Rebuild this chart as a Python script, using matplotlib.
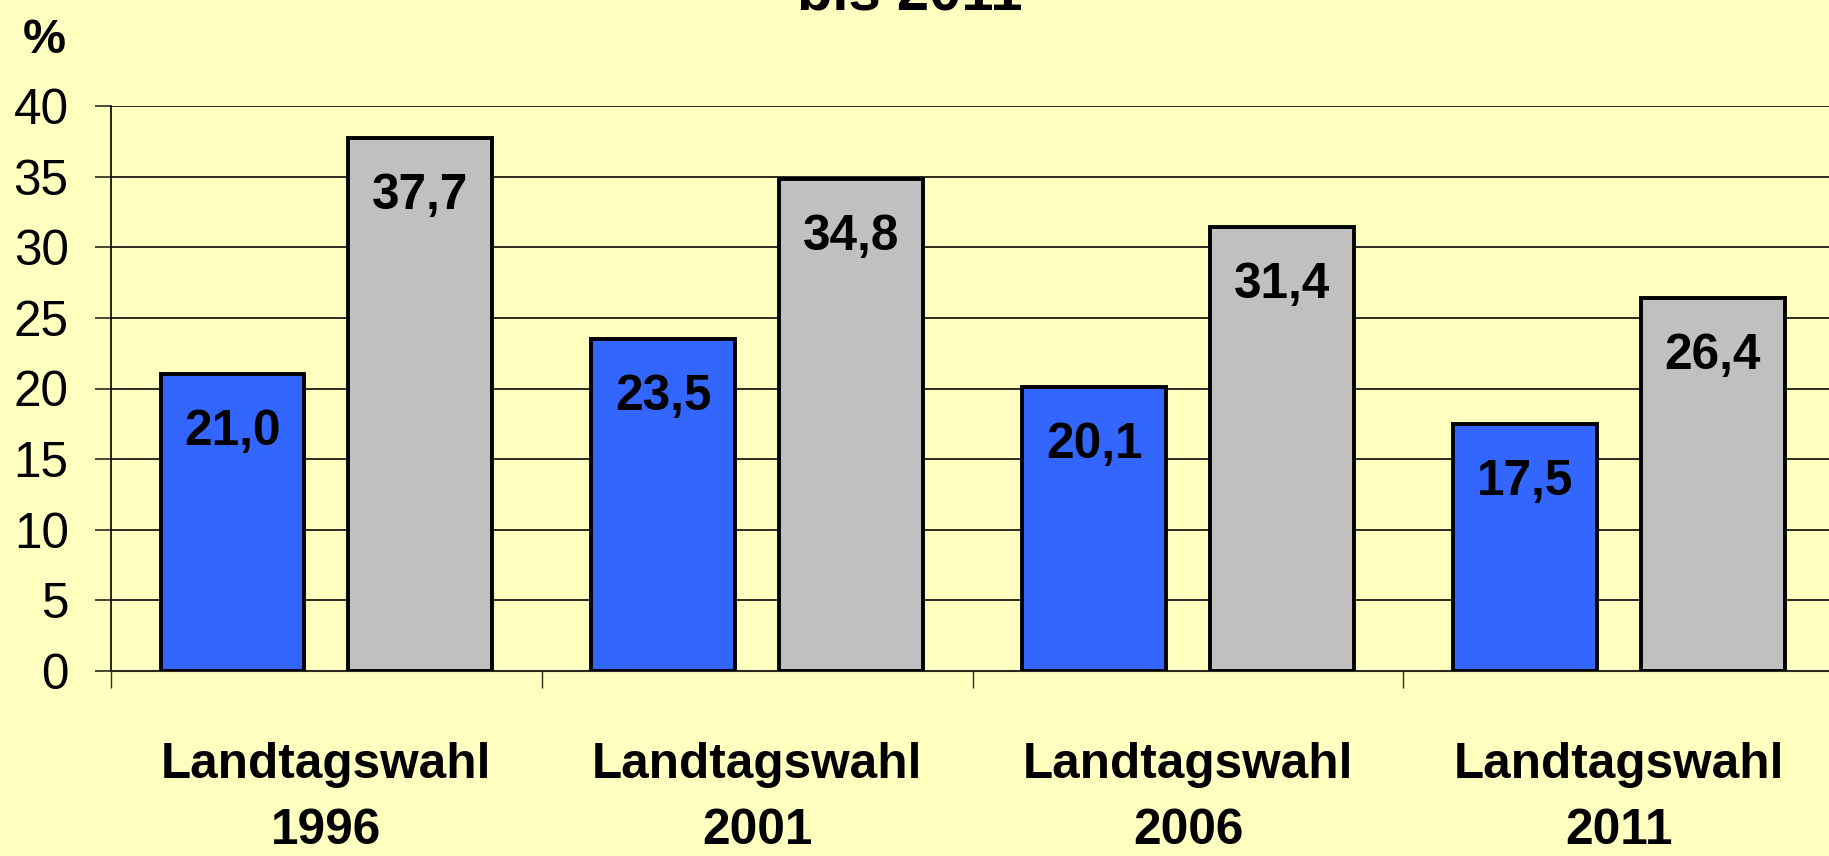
import matplotlib
matplotlib.use("Agg")
import matplotlib.pyplot as plt
from matplotlib import font_manager as fm
import numpy as np

categories = ["Landtagswahl", "Landtagswahl", "Landtagswahl", "Landtagswahl"]
years = ["1996", "2001", "2006", "2011"]
series_blue = [21.0, 23.5, 20.1, 17.5]
series_gray = [37.7, 34.8, 31.4, 26.4]
yticks = [0, 5, 10, 15, 20, 25, 30, 35, 40]

BG = "#FFFFC0"
BLUE = "#3366FF"
GRAY = "#C0C0C0"

names = {f.name for f in fm.fontManager.ttflist}
if "Liberation Sans Narrow" in names:
    FAM = ["Liberation Sans Narrow", "DejaVu Sans"]
    S = 1.0
else:
    FAM = ["Liberation Sans", "DejaVu Sans"]
    S = 0.87

fig = plt.figure(figsize=(18.29, 8.56), dpi=100)
fig.patch.set_facecolor(BG)
ax = fig.add_axes([111/1829, 1 - 671/856, 4*430.8/1829, (671 - 106)/856])
ax.set_facecolor(BG)

x = np.arange(len(categories))
w = 0.334
off = 0.218
ax.bar(x - off, series_blue, w, color=BLUE, edgecolor="black", linewidth=2.8, zorder=3)
ax.bar(x + off, series_gray, w, color=GRAY, edgecolor="black", linewidth=2.8, zorder=3)

for xs, vals in ((x - off, series_blue), (x + off, series_gray)):
    for xi, v in zip(xs, vals):
        ax.text(xi, v - 4.1, f"{v:.1f}".replace(".", ","), ha="center", va="center",
                fontsize=41 * S, fontweight="bold", family=FAM, zorder=4)

ax.set_xlim(-0.5, len(categories) - 0.5)
ax.set_ylim(0, 40)
ax.set_yticks(yticks)
ax.set_yticklabels([str(t) for t in yticks], family=FAM, fontsize=41 * S)
ax.yaxis.grid(True, color="#2a2a20", linewidth=1.4, zorder=0)
ax.tick_params(axis="y", length=11.5, width=1.2, pad=19, color="#2a2a20")
ax.set_xticks(np.arange(-0.5, len(categories), 1.0))
ax.set_xticklabels([])
ax.tick_params(axis="x", length=12.5, width=1.0, color="#2a2a20")
for s in ("top", "right"):
    ax.spines[s].set_visible(False)
ax.spines["left"].set_linewidth(1.2)
ax.spines["left"].set_color("black")
ax.spines["bottom"].set_linewidth(1.5)
ax.spines["bottom"].set_color("#2a2a20")

for xi, lab, yr in zip(x, categories, years):
    ax.annotate(lab, xy=(xi, 0), xycoords="data", xytext=(0, -107), textcoords="offset pixels",
                ha="center", va="baseline", fontsize=41 * S, fontweight="bold", family=FAM,
                annotation_clip=False)
    ax.annotate(yr, xy=(xi, 0), xycoords="data", xytext=(0, -173), textcoords="offset pixels",
                ha="center", va="baseline", fontsize=41 * S, fontweight="bold", family=FAM,
                annotation_clip=False)

fig.text(23/1829, 1 - 53/856, "%", fontsize=40 * S, fontweight="bold", family=FAM, ha="left", va="baseline")
fig.text(0.4975, 1 - 9/856, "bis 2011", fontsize=48 * S, fontweight="bold", family=FAM, ha="center", va="baseline")

fig.savefig("out.png", dpi=100, facecolor=BG)
